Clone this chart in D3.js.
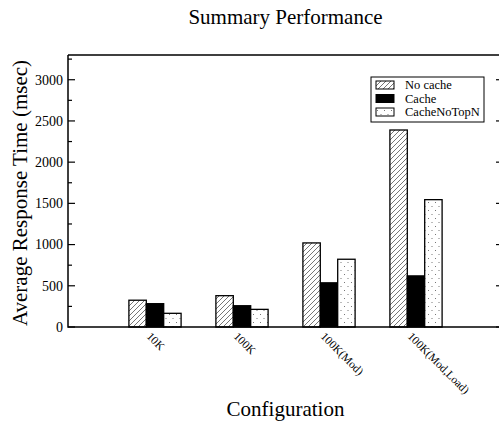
<!DOCTYPE html>
<html>
<head>
<meta charset="utf-8">
<script src="https://cdn.jsdelivr.net/npm/d3@7"></script>
<style>
  body { margin: 0; background: #fff; }
  svg { display: block; font-family: "Liberation Serif", "Times New Roman", serif; }
</style>
</head>
<body>
<div id="vis"></div>
<script>
// data
var configs = ["10K", "100K", "100K(Mod)", "100K(Mod,Load)"];
var seriesNames = ["No cache", "Cache", "CacheNoTopN"];
var noCache = [325, 380, 1020, 2390];
var cache = [283, 258, 536, 620];
var cacheNoTopN = [166, 214, 822, 1545];
var yTicks = [0, 500, 1000, 1500, 2000, 2500, 3000];

var width = 499, height = 425;
var margin = {top: 55, right: -1, bottom: 98, left: 68};

var svg = d3.select("#vis").append("svg")
    .attr("width", width)
    .attr("height", height);

var defs = svg.append("defs");

var hatch = defs.append("pattern")
    .attr("id", "hatch")
    .attr("patternUnits", "userSpaceOnUse")
    .attr("width", 5).attr("height", 5);
hatch.append("rect").attr("width", 5).attr("height", 5).attr("fill", "#fff");
hatch.append("path")
    .attr("d", "M-1,1 l2,-2 M0,5 l5,-5 M4,6 l2,-2")
    .attr("stroke", "#666").attr("stroke-width", 0.9);

var dots = defs.append("pattern")
    .attr("id", "dots")
    .attr("patternUnits", "userSpaceOnUse")
    .attr("width", 7).attr("height", 8);
dots.append("rect").attr("width", 7).attr("height", 8).attr("fill", "#fff");
dots.append("rect").attr("x", 1).attr("y", 2).attr("width", 1).attr("height", 1).attr("fill", "#777");
dots.append("rect").attr("x", 4.5).attr("y", 6).attr("width", 1).attr("height", 1).attr("fill", "#777");

var fills = ["url(#hatch)", "#000", "url(#dots)"];
var series = [noCache, cache, cacheNoTopN];

var x = d3.scaleLinear()
    .domain([0, 5])
    .range([margin.left, margin.left + 435]);

var y = d3.scaleLinear()
    .domain([0, 3300])
    .range([height - margin.bottom, margin.top]);

var barW = 0.2;

// bars
series.forEach(function(vals, s) {
  svg.append("g")
    .selectAll("rect")
    .data(vals)
    .enter().append("rect")
      .attr("x", function(d, i) { return x(i + 1 + (s - 1) * barW - barW / 2); })
      .attr("width", x(barW) - x(0))
      .attr("y", function(d) { return y(d); })
      .attr("height", function(d) { return y(0) - y(d); })
      .style("fill", fills[s])
      .style("stroke", "#000")
      .style("stroke-width", 1.3);
});

// frame
var x0 = margin.left, x1 = x(5), y0 = y(0), y1 = y(3300);
svg.append("path")
    .attr("d", "M" + x0 + "," + y1 + "H" + x1 + "M" + x0 + "," + y1 + "V" + y0 + "H" + x1)
    .attr("fill", "none")
    .attr("stroke", "#000")
    .attr("stroke-width", 1.5);

// y axis, ticks inward on both sides
var minor = d3.range(250, 3300, 500);
var ticks = svg.append("g");
yTicks.forEach(function(t) {
  ticks.append("line").attr("x1", x0).attr("x2", x0 + 7).attr("y1", y(t)).attr("y2", y(t));
  ticks.append("line").attr("x1", x1 - 7).attr("x2", x1).attr("y1", y(t)).attr("y2", y(t));
});
minor.forEach(function(t) {
  ticks.append("line").attr("x1", x0).attr("x2", x0 + 4).attr("y1", y(t)).attr("y2", y(t));
  ticks.append("line").attr("x1", x1 - 4).attr("x2", x1).attr("y1", y(t)).attr("y2", y(t));
});
ticks.selectAll("line").attr("stroke", "#000").attr("stroke-width", 1.2);

svg.append("g")
  .selectAll("text")
  .data(yTicks)
  .enter().append("text")
    .attr("x", x0 - 5)
    .attr("y", function(d) { return y(d); })
    .attr("dy", "0.35em")
    .attr("text-anchor", "end")
    .style("font-size", "14px")
    .text(function(d) { return d; });

// x tick labels, rotated
svg.append("g")
  .selectAll("text")
  .data(configs)
  .enter().append("text")
    .attr("transform", function(d, i) { return "translate(" + (x(i + 1) - 9) + "," + (y0 + 10) + ") rotate(45)"; })
    .attr("text-anchor", "start")
    .style("font-size", "11.5px")
    .text(function(d) { return d; });

// titles
svg.append("text")
    .attr("x", (x0 + x1) / 2)
    .attr("y", 24)
    .attr("text-anchor", "middle")
    .style("font-size", "21px")
    .text("Summary Performance");

svg.append("text")
    .attr("x", (x0 + x1) / 2)
    .attr("y", 416)
    .attr("text-anchor", "middle")
    .style("font-size", "21px")
    .text("Configuration");

svg.append("text")
    .attr("transform", "translate(27," + ((y0 + y1) / 2 + 2) + ") rotate(-90)")
    .attr("text-anchor", "middle")
    .style("font-size", "21px")
    .text("Average Response Time (msec)");

// legend
var lg = svg.append("g").attr("transform", "translate(371,77)");
lg.append("rect")
    .attr("width", 113).attr("height", 45)
    .attr("fill", "#fff").attr("stroke", "#000").attr("stroke-width", 1);
var item = lg.selectAll("g.item")
  .data(seriesNames)
  .enter().append("g")
    .attr("class", "item")
    .attr("transform", function(d, i) { return "translate(5," + (4 + i * 13.5) + ")"; });
item.append("rect")
    .attr("width", 18).attr("height", 8)
    .style("fill", function(d, i) { return fills[i]; })
    .style("stroke", "#000").style("stroke-width", 1);
item.append("text")
    .attr("x", 29).attr("y", 8)
    .style("font-size", "12.5px")
    .text(function(d) { return d; });
</script>
</body>
</html>
